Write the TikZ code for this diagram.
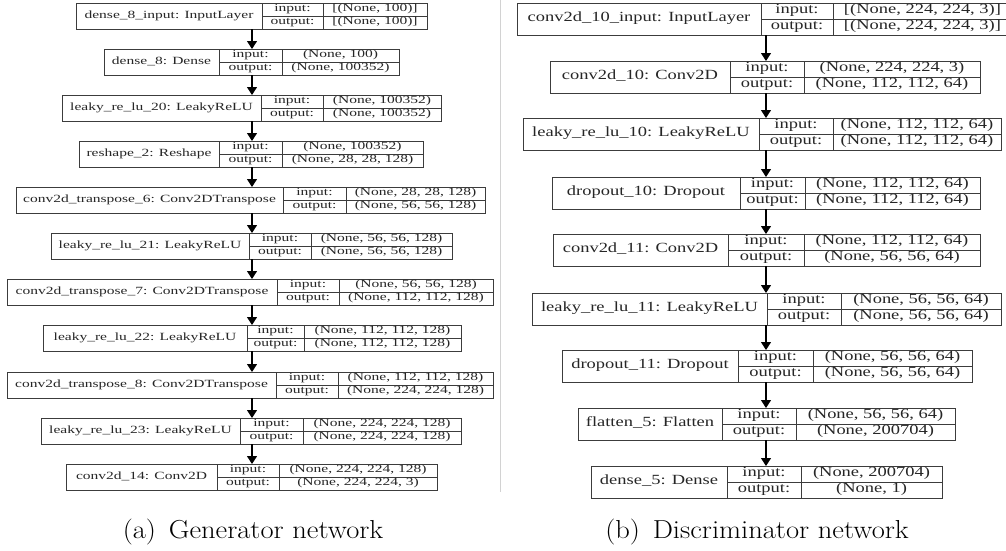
\documentclass[tikz,border=0pt]{standalone}
\usepackage{fontspec}
\usetikzlibrary{arrows.meta}
\newfontfamily\gv{Liberation Serif}
\definecolor{lc}{RGB}{60,60,60}
\newcommand{\tfs}{11}
\newcommand{\tsc}{1.41}
\newcommand{\bh}{26}
\newcommand{\tx}[1]{\scalebox{\tsc}[1]{\gv\fontsize{\tfs}{\tfs}\selectfont\strut #1}}
\newcommand{\layer}[9]{%
 \node[box, minimum width={#5-#2}, minimum height={\bh}, anchor=north west] (#1) at (#2,#6) {};
 \node[cell, minimum width={#3-#2}, minimum height={\bh}, anchor=north west] (#1-n) at (#2,#6) {\tx{#7}};
 \node[cell, minimum width={#4-#3}, minimum height={\bh/2}, anchor=north west] (#1-il) at (#3,#6) {\tx{input:}};
 \node[cell, minimum width={#4-#3}, minimum height={\bh/2}, anchor=south west] (#1-ol) at (#3,#6+\bh) {\tx{output:}};
 \node[cell, minimum width={#5-#4}, minimum height={\bh/2}, anchor=north west] (#1-iv) at (#4,#6) {\tx{#8}};
 \node[cell, minimum width={#5-#4}, minimum height={\bh/2}, anchor=south west] (#1-ov) at (#4,#6+\bh) {\tx{#9}};
}
\tikzset{
 box/.style={draw=lc, line width=0.9pt, inner sep=0pt, outer sep=0pt},
 cell/.style={draw=lc, line width=0.9pt, inner sep=0pt, outer sep=0pt, text=black!85},
 arr/.style={-{Triangle[length=8pt,width=10pt]}, line width=1.1pt, black},
 captxt/.style={anchor=base, font=\fontsize{26}{30}\selectfont}
}
\begin{document}
\begin{tikzpicture}[x=1pt,y=-1pt]
\useasboundingbox (0,0) rectangle (1006,550);
\fill[white] (0,0) rectangle (1006,550);
\draw[gray!35, line width=1.5pt] (500.5,0) -- (500.5,492);
% generator
\layer{g1}{76}{262}{323}{427}{3}{dense\_8\_input: InputLayer}{[(None, 100)]}{[(None, 100)]}
\layer{g2}{104}{219}{282}{399}{49}{dense\_8: Dense}{(None, 100)}{(None, 100352)}
\layer{g3}{62}{261}{323}{441}{95}{leaky\_re\_lu\_20: LeakyReLU}{(None, 100352)}{(None, 100352)}
\layer{g4}{79}{219}{282}{423}{141}{reshape\_2: Reshape}{(None, 100352)}{(None, 28, 28, 128)}
\layer{g5}{16}{283}{346}{485}{187}{conv2d\_transpose\_6: Conv2DTranspose}{(None, 28, 28, 128)}{(None, 56, 56, 128)}
\layer{g6}{51}{249}{311}{452}{233}{leaky\_re\_lu\_21: LeakyReLU}{(None, 56, 56, 128)}{(None, 56, 56, 128)}
\layer{g7}{7}{277}{339}{493}{279}{conv2d\_transpose\_7: Conv2DTranspose}{(None, 56, 56, 128)}{(None, 112, 112, 128)}
\layer{g8}{43}{247}{304}{461}{325}{leaky\_re\_lu\_22: LeakyReLU}{(None, 112, 112, 128)}{(None, 112, 112, 128)}
\layer{g9}{7}{276}{338}{493}{372}{conv2d\_transpose\_8: Conv2DTranspose}{(None, 112, 112, 128)}{(None, 224, 224, 128)}
\layer{g10}{41}{240}{303}{461}{418}{leaky\_re\_lu\_23: LeakyReLU}{(None, 224, 224, 128)}{(None, 224, 224, 128)}
\layer{g11}{66}{217}{279}{437}{464}{conv2d\_14: Conv2D}{(None, 224, 224, 128)}{(None, 224, 224, 3)}
\foreach \a/\b in {g1/g2,g2/g3,g3/g4,g4/g5,g5/g6,g6/g7,g7/g8,g8/g9,g9/g10,g10/g11}
  \draw[arr] (252,0 |- \a.south) -- (252,0 |- \b.north);
% discriminator
\renewcommand{\tfs}{14}
\renewcommand{\tsc}{1.32}
\renewcommand{\bh}{32}
\layer{d1}{517}{761}{833}{1012}{3}{conv2d\_10\_input: InputLayer}{[(None, 224, 224, 3)]}{[(None, 224, 224, 3)]}
\layer{d2}{550}{730}{804}{980}{61}{conv2d\_10: Conv2D}{(None, 224, 224, 3)}{(None, 112, 112, 64)}
\layer{d3}{523}{759}{833}{1001}{118}{leaky\_re\_lu\_10: LeakyReLU}{(None, 112, 112, 64)}{(None, 112, 112, 64)}
\layer{d4}{552}{740}{805}{980}{177}{dropout\_10: Dropout}{(None, 112, 112, 64)}{(None, 112, 112, 64)}
\layer{d5}{553}{728}{804}{980}{234}{conv2d\_11: Conv2D}{(None, 112, 112, 64)}{(None, 56, 56, 64)}
\layer{d6}{532}{767}{841}{1001}{293}{leaky\_re\_lu\_11: LeakyReLU}{(None, 56, 56, 64)}{(None, 56, 56, 64)}
\layer{d7}{562}{738}{813}{972}{350}{dropout\_11: Dropout}{(None, 56, 56, 64)}{(None, 56, 56, 64)}
\layer{d8}{578}{722}{796}{955}{408}{flatten\_5: Flatten}{(None, 56, 56, 64)}{(None, 200704)}
\layer{d9}{591}{727}{801}{942}{466}{dense\_5: Dense}{(None, 200704)}{(None, 1)}
\foreach \a/\b in {d1/d2,d2/d3,d3/d4,d4/d5,d5/d6,d6/d7,d7/d8,d8/d9}
  \draw[arr] (766,0 |- \a.south) -- (766,0 |- \b.north);
% captions
\node[captxt] (capa) at (253,538) {\scalebox{1.097}[1]{(a)\hspace{0.45em}Generator network}};
\node[captxt] (capb) at (757,538) {\scalebox{1.097}[1]{(b)\hspace{0.45em}Discriminator network}};
\end{tikzpicture}
\end{document}
